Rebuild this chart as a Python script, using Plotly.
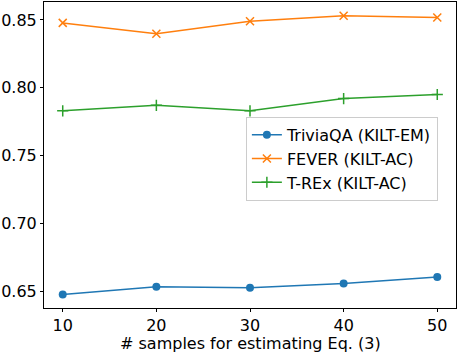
import plotly.graph_objects as go

samples = [10, 20, 30, 40, 50]
triviaqa = [0.6476, 0.6532, 0.6525, 0.6557, 0.6605]
fever = [0.8478, 0.8398, 0.8490, 0.8530, 0.8518]
trex = [0.7830, 0.7870, 0.7830, 0.7920, 0.7950]

names = ["TriviaQA (KILT-EM)", "FEVER (KILT-AC)", "T-REx (KILT-AC)"]
colors = ["#1f77b4", "#ff7f0e", "#2ca02c"]
x_title = "# samples for estimating Eq. (3)"

fig = go.Figure()
fig.add_trace(go.Scatter(x=samples, y=triviaqa, name=names[0], mode="lines+markers",
                         line=dict(color=colors[0], width=1.5),
                         marker=dict(symbol="circle", size=8, color=colors[0])))
fig.add_trace(go.Scatter(x=samples, y=fever, name=names[1], mode="lines+markers",
                         line=dict(color=colors[1], width=1.5),
                         marker=dict(symbol="x-thin", size=8, color=colors[1],
                                     line=dict(color=colors[1], width=1.5))))
fig.add_trace(go.Scatter(x=samples, y=trex, name=names[2], mode="lines+markers",
                         line=dict(color=colors[2], width=1.5),
                         marker=dict(symbol="cross-thin", size=8, color=colors[2],
                                     line=dict(color=colors[2], width=1.5))))

FONT = dict(family="DejaVu Sans", size=16, color="black")
axis_common = dict(showline=True, linecolor="black", linewidth=1, mirror=True,
                   ticks="outside", ticklen=3, tickcolor="black", showgrid=False,
                   zeroline=False, tickfont=FONT)

fig.update_layout(
    width=458, height=352,
    margin=dict(l=43, r=1, t=1, b=44),
    plot_bgcolor="white", paper_bgcolor="white",
    font=FONT,
    xaxis=dict(range=[8, 52], tickvals=samples, ticktext=[str(s) for s in samples],
               **axis_common),
    yaxis=dict(range=[0.6376, 0.8632], tickvals=[0.65, 0.70, 0.75, 0.80, 0.85],
               ticktext=["0.65", "0.70", "0.75", "0.80", "0.85"], **axis_common),
    legend=dict(x=0.49, y=0.625, xanchor="left", yanchor="top",
                bordercolor="#cccccc", borderwidth=1, bgcolor="rgba(255,255,255,0.8)",
                font=FONT, tracegroupgap=0, itemwidth=30),
    showlegend=True,
    annotations=[dict(text=x_title, xref="paper", yref="paper", x=0.5, y=-0.115,
                      xanchor="center", yanchor="middle", showarrow=False, font=FONT)],
)

fig.write_html("out.html", config={"displayModeBar": False},
               post_script="document.body.style.margin='0';document.body.style.overflow='hidden';")
